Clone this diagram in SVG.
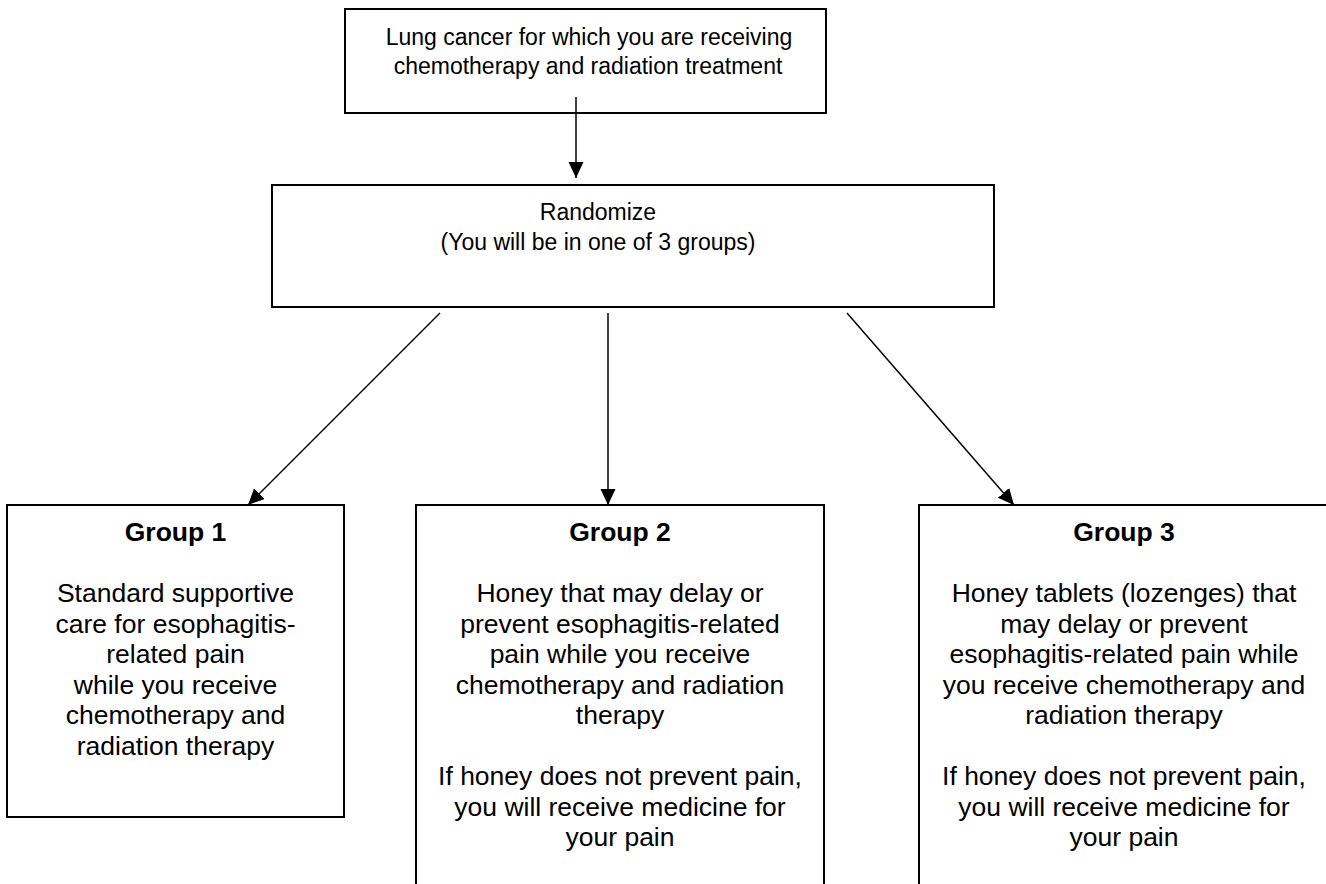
<svg xmlns="http://www.w3.org/2000/svg" width="1326" height="884" viewBox="0 0 1326 884">
  <defs>
    <style>
      .box { fill: #ffffff; stroke: #000000; stroke-width: 2; }
      .conn { stroke: #000000; stroke-width: 1.5; fill: none; marker-end: url(#arrow); }
      .t { font-family: "Liberation Sans", Arial, sans-serif; fill: #000000; text-anchor: middle; }
      .top { font-size: 23px; }
      .g { font-size: 26.5px; }
      .gt { font-size: 26.5px; font-weight: bold; }
    </style>
    <marker id="arrow" markerUnits="userSpaceOnUse" markerWidth="17" markerHeight="16" refX="16" refY="7.5" orient="auto">
      <path d="M0,0 L16,7.5 L0,15 Z" fill="#000000"/>
    </marker>
  </defs>
  <rect width="1326" height="884" fill="#ffffff"/>

  <g id="node-lung">
    <rect class="box" x="345" y="9" width="481" height="104"/>
    <text class="t top" x="589" y="44.5">Lung cancer for which you are receiving</text>
    <text class="t top" x="588" y="74">chemotherapy and radiation treatment</text>
  </g>

  <g id="node-randomize">
    <rect class="box" x="272" y="185" width="722" height="122"/>
    <text class="t top" x="598" y="220">Randomize</text>
    <text class="t top" x="598" y="250">(You will be in one of 3 groups)</text>
  </g>

  <g id="node-group1">
    <rect class="box" x="7" y="505" width="337" height="312"/>
    <text class="t gt" x="175.5" y="541">Group 1</text>
    <text class="t g" x="175.5" y="602">Standard supportive</text>
    <text class="t g" x="175.5" y="632.5">care for esophagitis-</text>
    <text class="t g" x="175.5" y="663">related pain</text>
    <text class="t g" x="175.5" y="693.5">while you receive</text>
    <text class="t g" x="175.5" y="724">chemotherapy and</text>
    <text class="t g" x="175.5" y="754.5">radiation therapy</text>
  </g>

  <g id="node-group2">
    <rect class="box" x="416" y="505" width="408" height="400"/>
    <text class="t gt" x="620" y="541">Group 2</text>
    <text class="t g" x="620" y="602">Honey that may delay or</text>
    <text class="t g" x="620" y="632.5">prevent esophagitis-related</text>
    <text class="t g" x="620" y="663">pain while you receive</text>
    <text class="t g" x="620" y="693.5">chemotherapy and radiation</text>
    <text class="t g" x="620" y="724">therapy</text>
    <text class="t g" x="620" y="785">If honey does not prevent pain,</text>
    <text class="t g" x="620" y="815.5">you will receive medicine for</text>
    <text class="t g" x="620" y="846">your pain</text>
  </g>

  <g id="node-group3">
    <rect class="box" x="919" y="505" width="410" height="400"/>
    <text class="t gt" x="1124" y="541">Group 3</text>
    <text class="t g" x="1124" y="602">Honey tablets (lozenges) that</text>
    <text class="t g" x="1124" y="632.5">may delay or prevent</text>
    <text class="t g" x="1124" y="663">esophagitis-related pain while</text>
    <text class="t g" x="1124" y="693.5">you receive chemotherapy and</text>
    <text class="t g" x="1124" y="724">radiation therapy</text>
    <text class="t g" x="1124" y="785">If honey does not prevent pain,</text>
    <text class="t g" x="1124" y="815.5">you will receive medicine for</text>
    <text class="t g" x="1124" y="846">your pain</text>
  </g>

  <g id="connectors">
    <line class="conn" x1="576" y1="97" x2="576" y2="178"/>
    <line class="conn" x1="440" y1="313" x2="248" y2="505"/>
    <line class="conn" x1="608" y1="313" x2="608" y2="505"/>
    <line class="conn" x1="847" y1="313" x2="1014" y2="505"/>
  </g>
</svg>
